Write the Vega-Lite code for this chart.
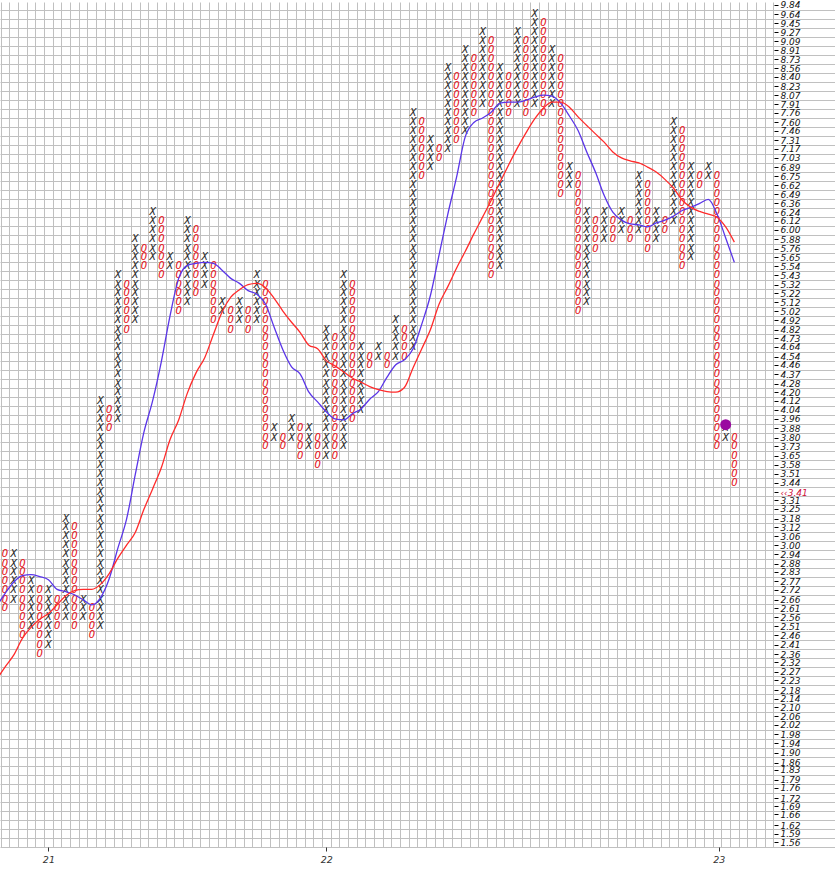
{
  "$schema": "https://vega.github.io/schema/vega-lite/v6.json",
  "width": 835,
  "height": 845,
  "padding": 0,
  "background": "white",
  "config": {"view": {"stroke": null}},
  "datasets": {
    "cols": [
      {"c":0,"t":"O","p":[2.94,2.88,2.83,2.77,2.72,2.66,2.61]},
      {"c":1,"t":"X","p":[2.94,2.88,2.83,2.77,2.72,2.66]},
      {"c":2,"t":"O","p":[2.88,2.83,2.77,2.72,2.66,2.61,2.56,2.51,2.46]},
      {"c":3,"t":"X","p":[2.77,2.72,2.66,2.61,2.56,2.51]},
      {"c":4,"t":"O","p":[2.72,2.66,2.61,2.56,2.51,2.46,2.41,2.36]},
      {"c":5,"t":"X","p":[2.72,2.66,2.61,2.56,2.51,2.46,2.41]},
      {"c":6,"t":"O","p":[2.66,2.61,2.56,2.51]},
      {"c":7,"t":"X","p":[3.18,3.12,3.06,3.00,2.94,2.88,2.83,2.77,2.72,2.66,2.61,2.56]},
      {"c":8,"t":"O","p":[3.12,3.06,3.00,2.94,2.88,2.83,2.77,2.72,2.66,2.61,2.56,2.51]},
      {"c":9,"t":"X","p":[2.66,2.61,2.56]},
      {"c":10,"t":"O","p":[2.61,2.56,2.51,2.46]},
      {"c":11,"t":"X","p":[4.12,4.04,3.96,3.88,3.80,3.73,3.65,3.58,3.51,3.44,3.37,3.31,3.25,3.18,3.12,3.06,3.00,2.94,2.88,2.83,2.77,2.72,2.66,2.61,2.56,2.51]},
      {"c":12,"t":"O","p":[4.04,3.96,3.88]},
      {"c":13,"t":"X","p":[5.43,5.32,5.22,5.12,5.02,4.92,4.82,4.73,4.64,4.54,4.46,4.37,4.28,4.20,4.12,4.04,3.96]},
      {"c":14,"t":"O","p":[5.32,5.22,5.12,5.02,4.92,4.82]},
      {"c":15,"t":"X","p":[5.88,5.76,5.65,5.54,5.43,5.32,5.22,5.12,5.02,4.92]},
      {"c":16,"t":"O","p":[5.76,5.65,5.54]},
      {"c":17,"t":"X","p":[6.24,6.12,6.00,5.88,5.76,5.65]},
      {"c":18,"t":"O","p":[6.12,6.00,5.88,5.76,5.65,5.54,5.43]},
      {"c":19,"t":"X","p":[5.65,5.54]},
      {"c":20,"t":"O","p":[5.54,5.43,5.32,5.22,5.12,5.02]},
      {"c":21,"t":"X","p":[6.12,6.00,5.88,5.76,5.65,5.54,5.43,5.32,5.22,5.12]},
      {"c":22,"t":"O","p":[6.00,5.88,5.76,5.65,5.54,5.43,5.32,5.22]},
      {"c":23,"t":"X","p":[5.65,5.54,5.43,5.32]},
      {"c":24,"t":"O","p":[5.54,5.43,5.32,5.22,5.12,5.02,4.92]},
      {"c":25,"t":"X","p":[5.12,5.02]},
      {"c":26,"t":"O","p":[5.02,4.92,4.82]},
      {"c":27,"t":"X","p":[5.12,5.02,4.92]},
      {"c":28,"t":"O","p":[5.02,4.92,4.82]},
      {"c":29,"t":"X","p":[5.43,5.32,5.22,5.12,5.02,4.92]},
      {"c":30,"t":"O","p":[5.32,5.22,5.12,5.02,4.92,4.82,4.73,4.64,4.54,4.46,4.37,4.28,4.20,4.12,4.04,3.96,3.88,3.80,3.73]},
      {"c":31,"t":"X","p":[3.88,3.80]},
      {"c":32,"t":"O","p":[3.80,3.73]},
      {"c":33,"t":"X","p":[3.96,3.88,3.80]},
      {"c":34,"t":"O","p":[3.88,3.80,3.73,3.65]},
      {"c":35,"t":"X","p":[3.88,3.80,3.73]},
      {"c":36,"t":"O","p":[3.80,3.73,3.65,3.58]},
      {"c":37,"t":"X","p":[4.82,4.73,4.64,4.54,4.46,4.37,4.28,4.20,4.12,4.04,3.96,3.88,3.80,3.73,3.65]},
      {"c":38,"t":"O","p":[4.73,4.64,4.54,4.46,4.37,4.28,4.20,4.12,4.04,3.96,3.88,3.80,3.73,3.65]},
      {"c":39,"t":"X","p":[5.43,5.32,5.22,5.12,5.02,4.92,4.82,4.73,4.64,4.54,4.46,4.37,4.28,4.20,4.12,4.04,3.96,3.88,3.80,3.73]},
      {"c":40,"t":"O","p":[5.32,5.22,5.12,5.02,4.92,4.82,4.73,4.64,4.54,4.46,4.37,4.28,4.20,4.12,4.04,3.96]},
      {"c":41,"t":"X","p":[4.64,4.54,4.46,4.37,4.28,4.20,4.12,4.04]},
      {"c":42,"t":"O","p":[4.54,4.46]},
      {"c":43,"t":"X","p":[4.64,4.54]},
      {"c":44,"t":"O","p":[4.54,4.46]},
      {"c":45,"t":"X","p":[4.92,4.82,4.73,4.64,4.54]},
      {"c":46,"t":"O","p":[4.82,4.73,4.64,4.54]},
      {"c":47,"t":"X","p":[7.76,7.60,7.46,7.31,7.17,7.03,6.89,6.75,6.62,6.49,6.36,6.24,6.12,6.00,5.88,5.76,5.65,5.54,5.43,5.32,5.22,5.12,5.02,4.92,4.82,4.73,4.64]},
      {"c":48,"t":"O","p":[7.60,7.46,7.31,7.17,7.03,6.89,6.75]},
      {"c":49,"t":"X","p":[7.31,7.17,7.03,6.89]},
      {"c":50,"t":"O","p":[7.17,7.03]},
      {"c":51,"t":"X","p":[8.56,8.40,8.23,8.07,7.91,7.76,7.60,7.46,7.31,7.17]},
      {"c":52,"t":"O","p":[8.40,8.23,8.07,7.91,7.76,7.60,7.46,7.31]},
      {"c":53,"t":"X","p":[8.91,8.73,8.56,8.40,8.23,8.07,7.91,7.76,7.60,7.46]},
      {"c":54,"t":"O","p":[8.73,8.56,8.40,8.23,8.07,7.91,7.76]},
      {"c":55,"t":"X","p":[9.27,9.09,8.91,8.73,8.56,8.40,8.23,8.07,7.91]},
      {"c":56,"t":"O","p":[9.09,8.91,8.73,8.56,8.40,8.23,8.07,7.91,7.76,7.60,7.46,7.31,7.17,7.03,6.89,6.75,6.62,6.49,6.36,6.24,6.12,6.00,5.88,5.76,5.65,5.54,5.43]},
      {"c":57,"t":"X","p":[8.56,8.40,8.23,8.07,7.91,7.76,7.60,7.46,7.31,7.17,7.03,6.89,6.75,6.62,6.49,6.36,6.24,6.12,6.00,5.88,5.76,5.65,5.54]},
      {"c":58,"t":"O","p":[8.40,8.23,8.07,7.91,7.76]},
      {"c":59,"t":"X","p":[9.27,9.09,8.91,8.73,8.56,8.40,8.23,8.07,7.91]},
      {"c":60,"t":"O","p":[9.09,8.91,8.73,8.56,8.40,8.23,8.07,7.91,7.76]},
      {"c":61,"t":"X","p":[9.64,9.45,9.27,9.09,8.91,8.73,8.56,8.40,8.23,8.07,7.91]},
      {"c":62,"t":"O","p":[9.45,9.27,9.09,8.91,8.73,8.56,8.40,8.23,8.07,7.91,7.76]},
      {"c":63,"t":"X","p":[8.91,8.73,8.56,8.40,8.23,8.07,7.91]},
      {"c":64,"t":"O","p":[8.73,8.56,8.40,8.23,8.07,7.91,7.76,7.60,7.46,7.31,7.17,7.03,6.89,6.75,6.62,6.49]},
      {"c":65,"t":"X","p":[6.89,6.75,6.62]},
      {"c":66,"t":"O","p":[6.75,6.62,6.49,6.36,6.24,6.12,6.00,5.88,5.76,5.65,5.54,5.43,5.32,5.22,5.12,5.02]},
      {"c":67,"t":"X","p":[6.24,6.12,6.00,5.88,5.76,5.65,5.54,5.43,5.32,5.22,5.12]},
      {"c":68,"t":"O","p":[6.12,6.00,5.88,5.76]},
      {"c":69,"t":"X","p":[6.24,6.12,6.00,5.88]},
      {"c":70,"t":"O","p":[6.12,6.00,5.88]},
      {"c":71,"t":"X","p":[6.24,6.12,6.00]},
      {"c":72,"t":"O","p":[6.12,6.00,5.88]},
      {"c":73,"t":"X","p":[6.75,6.62,6.49,6.36,6.24,6.12,6.00]},
      {"c":74,"t":"O","p":[6.62,6.49,6.36,6.24,6.12,6.00,5.88,5.76]},
      {"c":75,"t":"X","p":[6.24,6.12,6.00,5.88]},
      {"c":76,"t":"O","p":[6.12,6.00]},
      {"c":77,"t":"X","p":[7.60,7.46,7.31,7.17,7.03,6.89,6.75,6.62,6.49,6.36,6.24,6.12]},
      {"c":78,"t":"O","p":[7.46,7.31,7.17,7.03,6.89,6.75,6.62,6.49,6.36,6.24,6.12,6.00,5.88,5.76,5.65,5.54]},
      {"c":79,"t":"X","p":[6.89,6.75,6.62,6.49,6.36,6.24,6.12,6.00,5.88,5.76,5.65]},
      {"c":80,"t":"O","p":[6.75,6.62]},
      {"c":81,"t":"X","p":[6.89,6.75]},
      {"c":82,"t":"O","p":[6.75,6.62,6.49,6.36,6.24,6.12,6.00,5.88,5.76,5.65,5.54,5.43,5.32,5.22,5.12,5.02,4.92,4.82,4.73,4.64,4.54,4.46,4.37,4.28,4.20,4.12,4.04,3.96,3.88,3.80,3.73]},
      {"c":83,"t":"X","p":[3.88,3.80]},
      {"c":84,"t":"O","p":[3.80,3.73,3.65,3.58,3.51,3.44]}
    ],
    "fast": [
      {"c":-1,"p":2.62},{"c":0,"p":2.697},{"c":1,"p":2.765},{"c":2,"p":2.806},{"c":3,"p":2.811},{"c":4,"p":2.799},{"c":5,"p":2.78},{"c":6,"p":2.722},{"c":7,"p":2.708},{"c":8,"p":2.69},{"c":9,"p":2.66},{"c":10,"p":2.631},{"c":11,"p":2.672},{"c":12,"p":2.786},{"c":13,"p":2.98},{"c":14,"p":3.176},{"c":15,"p":3.503},{"c":16,"p":3.846},{"c":17,"p":4.12},{"c":18,"p":4.49},{"c":19,"p":4.965},{"c":20,"p":5.394},{"c":21,"p":5.551},{"c":22,"p":5.576},{"c":23,"p":5.587},{"c":24,"p":5.576},{"c":25,"p":5.492},{"c":26,"p":5.394},{"c":27,"p":5.335},{"c":28,"p":5.25},{"c":29,"p":5.209},{"c":30,"p":5.098},{"c":31,"p":4.844},{"c":32,"p":4.61},{"c":33,"p":4.44},{"c":34,"p":4.37},{"c":35,"p":4.2},{"c":36,"p":4.111},{"c":37,"p":4.022},{"c":38,"p":3.96},{"c":39,"p":3.951},{"c":40,"p":4.005},{"c":41,"p":4.048},{"c":42,"p":4.135},{"c":43,"p":4.205},{"c":44,"p":4.341},{"c":45,"p":4.461},{"c":46,"p":4.51},{"c":47,"p":4.62},{"c":48,"p":4.878},{"c":49,"p":5.197},{"c":50,"p":5.684},{"c":51,"p":6.213},{"c":52,"p":6.735},{"c":53,"p":7.362},{"c":54,"p":7.6},{"c":55,"p":7.674},{"c":56,"p":7.772},{"c":57,"p":7.929},{"c":58,"p":7.946},{"c":59,"p":7.946},{"c":60,"p":7.981},{"c":61,"p":8.035},{"c":62,"p":8.07},{"c":63,"p":8.052},{"c":64,"p":7.929},{"c":65,"p":7.709},{"c":66,"p":7.467},{"c":67,"p":7.123},{"c":68,"p":6.814},{"c":69,"p":6.476},{"c":70,"p":6.24},{"c":71,"p":6.131},{"c":72,"p":6.08},{"c":73,"p":6.067},{"c":74,"p":6.04},{"c":75,"p":6.093},{"c":76,"p":6.131},{"c":77,"p":6.186},{"c":78,"p":6.262},{"c":79,"p":6.305},{"c":80,"p":6.36},{"c":81,"p":6.418},{"c":82,"p":6.213},{"c":83,"p":5.895},{"c":84,"p":5.587}
    ],
    "slow": [
      {"c":-1,"p":2.23},{"c":0,"p":2.294},{"c":1,"p":2.355},{"c":2,"p":2.444},{"c":3,"p":2.504},{"c":4,"p":2.549},{"c":5,"p":2.581},{"c":6,"p":2.631},{"c":7,"p":2.684},{"c":8,"p":2.714},{"c":9,"p":2.722},{"c":10,"p":2.722},{"c":11,"p":2.752},{"c":12,"p":2.818},{"c":13,"p":2.915},{"c":14,"p":3.0},{"c":15,"p":3.085},{"c":16,"p":3.246},{"c":17,"p":3.395},{"c":18,"p":3.556},{"c":19,"p":3.783},{"c":20,"p":3.951},{"c":21,"p":4.191},{"c":22,"p":4.382},{"c":23,"p":4.53},{"c":24,"p":4.767},{"c":25,"p":5.009},{"c":26,"p":5.175},{"c":27,"p":5.261},{"c":28,"p":5.32},{"c":29,"p":5.335},{"c":30,"p":5.285},{"c":31,"p":5.162},{"c":32,"p":5.02},{"c":33,"p":4.898},{"c":34,"p":4.788},{"c":35,"p":4.657},{"c":36,"p":4.62},{"c":37,"p":4.501},{"c":38,"p":4.45},{"c":39,"p":4.392},{"c":40,"p":4.332},{"c":41,"p":4.294},{"c":42,"p":4.252},{"c":43,"p":4.224},{"c":44,"p":4.205},{"c":45,"p":4.2},{"c":46,"p":4.243},{"c":47,"p":4.431},{"c":48,"p":4.62},{"c":49,"p":4.82},{"c":50,"p":5.098},{"c":51,"p":5.297},{"c":52,"p":5.516},{"c":53,"p":5.722},{"c":54,"p":5.948},{"c":55,"p":6.171},{"c":56,"p":6.405},{"c":57,"p":6.661},{"c":58,"p":6.922},{"c":59,"p":7.182},{"c":60,"p":7.427},{"c":61,"p":7.658},{"c":62,"p":7.842},{"c":63,"p":7.946},{"c":64,"p":7.946},{"c":65,"p":7.858},{"c":66,"p":7.693},{"c":67,"p":7.55},{"c":68,"p":7.411},{"c":69,"p":7.278},{"c":70,"p":7.123},{"c":71,"p":7.03},{"c":72,"p":6.984},{"c":73,"p":6.952},{"c":74,"p":6.89},{"c":75,"p":6.814},{"c":76,"p":6.706},{"c":77,"p":6.576},{"c":78,"p":6.405},{"c":79,"p":6.305},{"c":80,"p":6.249},{"c":81,"p":6.213},{"c":82,"p":6.171},{"c":83,"p":6.04},{"c":84,"p":5.841}
    ],
    "dot": [{"c":83,"p":3.91}]
  },
  "resolve": {"axis": {"x": "independent", "y": "independent"}},
  "layer": [
    {
      "data": {"name": "cols"},
      "transform": [{"flatten": ["p"]}],
      "mark": {"type": "text", "font": "DejaVu Sans Mono", "fontStyle": "italic", "fontSize": 10.5, "align": "center", "baseline": "middle"},
      "encoding": {
        "x": {"field": "c", "type": "quantitative",
          "scale": {"domain": [-0.576, 95.59], "nice": false, "zero": false},
          "axis": {"orient": "top", "title": null, "labels": false, "ticks": false, "domain": false, "grid": true, "gridColor": "#c0c0c0", "gridWidth": 1,
            "values": [-0.5,0.5,1.5,2.5,3.5,4.5,5.5,6.5,7.5,8.5,9.5,10.5,11.5,12.5,13.5,14.5,15.5,16.5,17.5,18.5,19.5,20.5,21.5,22.5,23.5,24.5,25.5,26.5,27.5,28.5,29.5,30.5,31.5,32.5,33.5,34.5,35.5,36.5,37.5,38.5,39.5,40.5,41.5,42.5,43.5,44.5,45.5,46.5,47.5,48.5,49.5,50.5,51.5,52.5,53.5,54.5,55.5,56.5,57.5,58.5,59.5,60.5,61.5,62.5,63.5,64.5,65.5,66.5,67.5,68.5,69.5,70.5,71.5,72.5,73.5,74.5,75.5,76.5,77.5,78.5,79.5,80.5,81.5,82.5,83.5,84.5,85.5,86.5,87.5,88.5]}},
        "y": {"field": "p", "type": "quantitative",
          "scale": {"type": "log", "domain": [1.5446, 9.905], "nice": false},
          "axis": {"orient": "left", "title": null, "labels": false, "ticks": false, "domain": false, "grid": true, "gridColor": "#c0c0c0", "gridWidth": 1,
            "values": [1.5446,1.5755,1.607,1.6392,1.672,1.7054,1.7395,1.7743,1.8098,1.846,1.8829,1.9206,1.959,1.9981,2.0381,2.0789,2.1205,2.1629,2.2062,2.2503,2.2953,2.3412,2.388,2.4358,2.4845,2.5342,2.5849,2.6366,2.6893,2.7431,2.798,2.8539,2.911,2.9692,3.0286,3.0892,3.151,3.214,3.2783,3.3438,3.4107,3.4789,3.5485,3.6195,3.6919,3.7657,3.841,3.9178,3.9962,4.0761,4.1576,4.2408,4.3256,4.4121,4.5003,4.5904,4.6822,4.7758,4.8713,4.9687,5.0681,5.1695,5.2729,5.3783,5.4859,5.5956,5.7075,5.8217,5.9381,6.0569,6.178,6.3016,6.4276,6.5562,6.6873,6.821,6.9574,7.0966,7.2385,7.3833,7.531,7.6816,7.8352,7.9919,8.1518,8.3148,8.4811,8.6507,8.8237,9.0002,9.1802,9.3638,9.5511,9.7421]}},
        "text": {"field": "t", "type": "nominal"},
        "color": {"field": "t", "type": "nominal", "scale": {"domain": ["X", "O"], "range": ["#2b2b2b", "#e3141c"]}, "legend": null}
      }
    },
    {
      "data": {"name": "fast"},
      "mark": {"type": "line", "color": "#5a35e8", "strokeWidth": 1.3, "interpolate": "monotone", "clip": true},
      "encoding": {
        "x": {"field": "c", "type": "quantitative",
          "scale": {"domain": [-0.576, 95.59], "nice": false, "zero": false},
          "axis": {"orient": "bottom", "title": null, "grid": false, "domain": false, "ticks": true, "tickSize": 4, "tickColor": "#333",
            "values": [5, 37, 82.2],
            "labelExpr": "datum.value < 10 ? '21' : datum.value < 50 ? '22' : '23'",
            "labelFont": "DejaVu Sans", "labelFontStyle": "italic", "labelFontSize": 9.5, "labelColor": "#333", "labelPadding": 3}},
        "y": {"field": "p", "type": "quantitative",
          "scale": {"type": "log", "domain": [1.5446, 9.905], "nice": false},
          "axis": {"orient": "right", "offset": -61, "title": null, "grid": false, "domain": false, "ticks": true, "tickSize": 4, "tickColor": "#000",
            "labelOverlap": false, "labelFlush": false, "labelBound": false, "labelPadding": 2,
            "labelFont": "DejaVu Sans", "labelFontStyle": "italic", "labelFontSize": 9,
            "labelColor": {"condition": {"test": "datum.value == 3.37", "value": "#d0103a"}, "value": "#111"},
            "labelExpr": "datum.value == 3.37 ? '‹‹3.41' : format(datum.value, '.2f')",
            "values": [9.84,9.64,9.45,9.27,9.09,8.91,8.73,8.56,8.40,8.23,8.07,7.91,7.76,7.60,7.46,7.31,7.17,7.03,6.89,6.75,6.62,6.49,6.36,6.24,6.12,6.00,5.88,5.76,5.65,5.54,5.43,5.32,5.22,5.12,5.02,4.92,4.82,4.73,4.64,4.54,4.46,4.37,4.28,4.20,4.12,4.04,3.96,3.88,3.80,3.73,3.65,3.58,3.51,3.44,3.37,3.31,3.25,3.18,3.12,3.06,3.00,2.94,2.88,2.83,2.77,2.72,2.66,2.61,2.56,2.51,2.46,2.41,2.36,2.32,2.27,2.23,2.18,2.14,2.10,2.06,2.02,1.98,1.94,1.90,1.86,1.83,1.79,1.76,1.72,1.69,1.66,1.62,1.59,1.56]}}
      }
    },
    {
      "data": {"name": "slow"},
      "mark": {"type": "line", "color": "#ff2b2b", "strokeWidth": 1.3, "interpolate": "monotone", "clip": true},
      "encoding": {
        "x": {"field": "c", "type": "quantitative", "scale": {"domain": [-0.576, 95.59], "nice": false, "zero": false}, "axis": null},
        "y": {"field": "p", "type": "quantitative", "scale": {"type": "log", "domain": [1.5446, 9.905], "nice": false}, "axis": null}
      }
    },
    {
      "data": {"name": "dot"},
      "mark": {"type": "point", "filled": true, "color": "#9a0aa0", "size": 120, "opacity": 1},
      "encoding": {
        "x": {"field": "c", "type": "quantitative", "scale": {"domain": [-0.576, 95.59], "nice": false, "zero": false}, "axis": null},
        "y": {"field": "p", "type": "quantitative", "scale": {"type": "log", "domain": [1.5446, 9.905], "nice": false}, "axis": null}
      }
    }
  ]
}
